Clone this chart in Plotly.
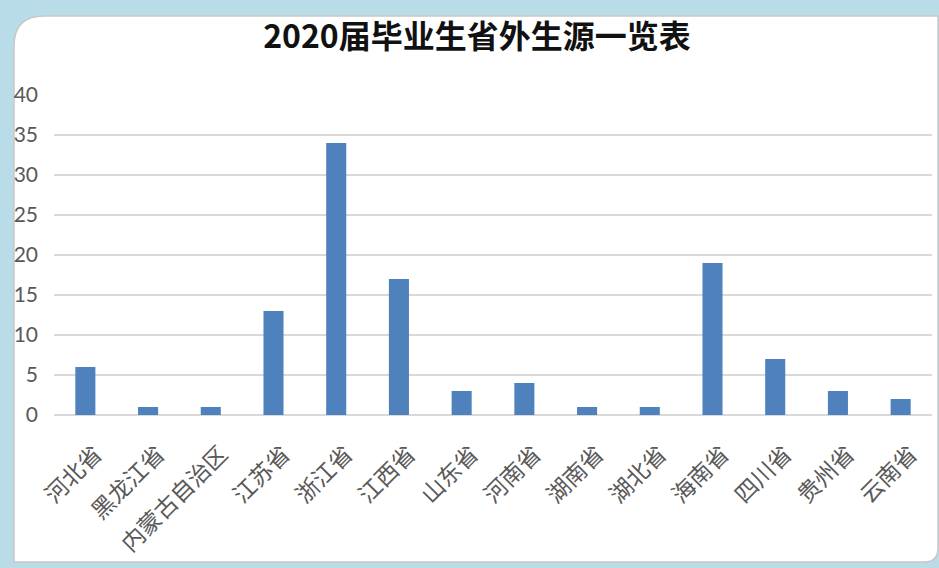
import plotly.graph_objects as go

categories = ["河北省", "黑龙江省", "内蒙古自治区", "江苏省", "浙江省", "江西省", "山东省",
              "河南省", "湖南省", "湖北省", "海南省", "四川省", "贵州省", "云南省"]
values = [6, 1, 1, 13, 34, 17, 3, 4, 1, 1, 19, 7, 3, 2]
y_ticks = [0, 5, 10, 15, 20, 25, 30, 35, 40]

W, H = 939, 568
ml, mr, mt, mb = 54, 7, 95, 153
pw, ph = W - ml - mr, H - mt - mb

def px_x(x):
    return (x - ml) / pw

def px_y(y):
    return (H - mb - y) / ph

fig = go.Figure()
fig.add_trace(go.Bar(x=categories, y=values, marker_color="#4f81bd", width=0.32,
                     marker_line_width=0))

x0, x1 = px_x(14), px_x(938)
y0, y1 = px_y(562), px_y(16)
rx, ry = 30 / pw, 30 / ph
rx2, ry2 = 14 / pw, 14 / ph
path = (f"M {x0},{y0} L {x0},{y1 - ry} Q {x0},{y1} {x0 + rx},{y1} "
        f"L {x1},{y1} L {x1},{y0 + ry2} Q {x1},{y0} {x1 - rx2},{y0} Z")
fig.add_shape(type="path", path=path, xref="paper", yref="paper",
              fillcolor="white", line=dict(color="#c8c8c8", width=1.5), layer="below")

fig.update_layout(
    width=W, height=H,
    margin=dict(l=ml, r=mr, t=mt, b=mb),
    paper_bgcolor="#b8dde9",
    plot_bgcolor="rgba(0,0,0,0)",
    showlegend=False,
    title=dict(text="<b>2020届毕业生省外生源一览表</b>", x=px_x(477), xref="paper",
               y=1 - 37 / H, yanchor="middle", xanchor="center",
               font=dict(family="Noto Sans CJK SC", size=32, color="#111111")),
    font=dict(family="Noto Sans CJK SC", color="#595959"),
)
fig.update_xaxes(tickangle=-45, tickfont=dict(size=23, color="#595959",
                 family="Noto Sans CJK SC"), showgrid=False, showline=False,
                 ticks="", ticklabelstandoff=20, ticklabelshift=10)
fig.update_yaxes(range=[0, 40], tickvals=y_ticks, showgrid=True, gridcolor="#d9d9d9",
                 gridwidth=1.5, zeroline=True, zerolinecolor="#d9d9d9", zerolinewidth=1.5,
                 tickfont=dict(size=21, color="#595959", family="Lato"),
                 ticklabelstandoff=15, showline=False, ticks="")
fig.write_html("out.html", config={"displayModeBar": False},
               post_script="document.body.style.margin='0';document.body.style.background='#b8dde9';")
